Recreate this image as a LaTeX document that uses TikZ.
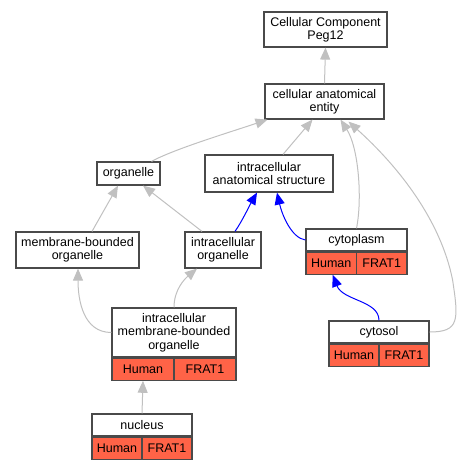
\documentclass[tikz,border=0pt]{standalone}
\usepackage{fontspec}
\setmainfont{Liberation Sans}
\usetikzlibrary{arrows.meta,calc}
\definecolor{edgegray}{HTML}{C0C0C0}
\definecolor{framegray}{HTML}{4A4A4A}
\definecolor{tomato}{HTML}{FF6347}

\begin{document}
\begin{tikzpicture}[
  x=1pt, y=-1pt,
  font=\fontsize{12.5}{13.3}\selectfont,
  every node/.style={align=center, inner sep=0pt},
  termbox/.style={rectangle, draw=framegray, fill=white, line width=1.2pt},
  cellbox/.style={rectangle, draw=framegray, fill=tomato, line width=1.2pt,
                  minimum height=22pt},
  isa/.style={draw=edgegray, line width=1pt,
              -{Triangle[length=12pt, width=10pt, fill=edgegray]}},
  partof/.style={draw=blue, line width=1pt,
                 -{Triangle[length=12pt, width=10pt, fill=blue]}}
]
\useasboundingbox (0,0) rectangle (461,469);

% Top of the ontology
\node[termbox, minimum width=123pt, minimum height=35pt] (root) at (325.5, 29.5)
  {Cellular Component\\Peg12};
\node[termbox, minimum width=119pt, minimum height=35pt] (cae) at (324.5, 101.5)
  {cellular anatomical\\entity};

% Second level
\node[termbox, minimum width=63pt, minimum height=23pt] (organelle) at (128.5, 173.5)
  {organelle};
\node[termbox, minimum width=128pt, minimum height=37pt] (ias) at (269, 173.5)
  {intracellular\\anatomical structure};

% Third level
\node[termbox, minimum width=123pt, minimum height=36pt] (mbo) at (77.5, 250)
  {membrane-bounded\\organelle};
\node[termbox, minimum width=76pt, minimum height=36pt] (iorg) at (223, 250)
  {intracellular\\organelle};

% Annotated terms (name + Human | FRAT1)
\node[termbox, minimum width=101pt, minimum height=22pt] (cyto) at (356.5, 240)
  {cytoplasm};
\node[cellbox, minimum width=50.5pt, anchor=north west] (cyto_h) at (cyto.south west) {Human};
\node[cellbox, minimum width=50.5pt, anchor=north east] (cyto_f) at (cyto.south east) {FRAT1};

\node[termbox, minimum width=124pt, minimum height=49pt] (imbo) at (174, 332.5)
  {intracellular\\membrane-bounded\\organelle};
\node[cellbox, minimum width=62pt, anchor=north west] (imbo_h) at (imbo.south west) {Human};
\node[cellbox, minimum width=62pt, anchor=north east] (imbo_f) at (imbo.south east) {FRAT1};

\node[termbox, minimum width=100pt, minimum height=22pt] (cytosol) at (379, 332)
  {cytosol};
\node[cellbox, minimum width=50pt, anchor=north west] (cytosol_h) at (cytosol.south west) {Human};
\node[cellbox, minimum width=50pt, anchor=north east] (cytosol_f) at (cytosol.south east) {FRAT1};

\node[termbox, minimum width=100pt, minimum height=22pt] (nucleus) at (142, 425)
  {nucleus};
\node[cellbox, minimum width=50pt, anchor=north west] (nucleus_h) at (nucleus.south west) {Human};
\node[cellbox, minimum width=50pt, anchor=north east] (nucleus_f) at (nucleus.south east) {FRAT1};

% is_a edges (gray)
\draw[isa] (cae.north) -- (root.south);
\draw[isa] ($(organelle.north)+(23,0)$) .. controls +(22,-12) and +(-42,14) .. ($(cae.south)+(-57,0)$);
\draw[isa] ($(ias.north)+(14,0)$) -- ($(cae.south)+(-12,0)$);
\draw[isa] (cyto.north) .. controls +(6,-30) and +(18,28) .. ($(cae.south)+(16,0)$);
\draw[isa] (cytosol.east) .. controls +(30,0) and +(6,40) .. ($(cytosol.east)+(23,-52)$)
  .. controls +(-12,-60) and +(50,45) .. ($(cae.south)+(24,2)$);
\draw[isa] ($(mbo.north)+(14.5,0)$) -- ($(organelle.south)+(-10.5,0)$);
\draw[isa] ($(iorg.north)+(-21,0)$) -- ($(organelle.south)+(14.5,0)$);
\draw[isa] (imbo.west) .. controls +(-28,0) and +(0,32) .. ($(mbo.south)+(0.5,0)$);
\draw[isa] (imbo.north) .. controls +(0,-18) and +(-12,10) .. ($(iorg.south)+(-26,0)$);
\draw[isa] (nucleus.north) -- (imbo_h.south);

% part_of edges (blue)
\draw[partof] ($(iorg.north)+(12,0)$) .. controls +(7,-10) and +(-7,12) .. ($(ias.south)+(-12,0)$);
\draw[partof] (cyto.west) .. controls +(-14,-2) and +(5,22) .. ($(ias.south)+(8,0)$);
\draw[partof] (cytosol.north) .. controls +(0,-20) and +(10,26) .. ($(cyto_h.south)+(1.5,0)$);

\end{tikzpicture}
\end{document}
